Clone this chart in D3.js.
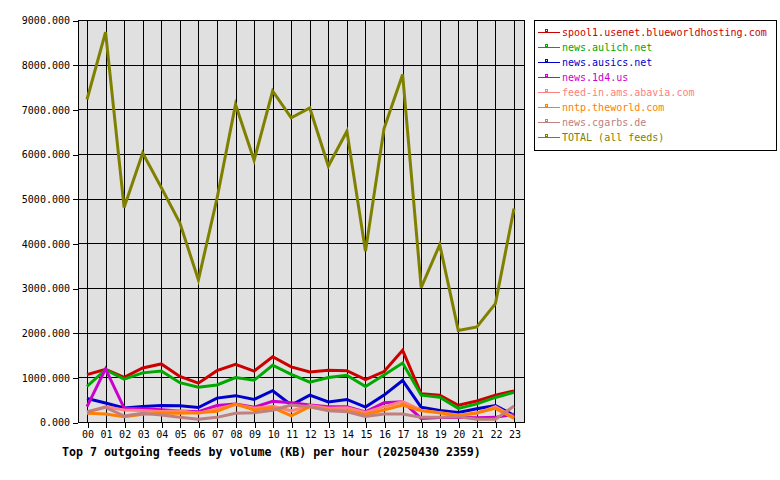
<!DOCTYPE html>
<html>
<head>
<meta charset="utf-8">
<script src="https://cdn.jsdelivr.net/npm/d3@7"></script>
<style>
  body { margin: 0; background: #fff; }
  text { font-family: "DejaVu Sans Mono", monospace; }
</style>
</head>
<body>
<div id="chart"></div>
<script>
/* DATA */
const hours = ["00","01","02","03","04","05","06","07","08","09","10","11",
               "12","13","14","15","16","17","18","19","20","21","22","23"];
const yTicks = [0, 1000, 2000, 3000, 4000, 5000, 6000, 7000, 8000, 9000];

const spool1 = [1060,1180,1000,1210,1300,1020,870,1150,1290,1140,1460,1235,1120,1160,1150,950,1130,1605,630,600,375,470,600,695];
const aulich = [800,1170,960,1100,1140,880,780,830,995,935,1270,1065,890,995,1045,795,1050,1320,600,555,305,405,550,665];
const ausics = [525,425,315,345,370,365,325,535,590,505,700,380,600,450,505,335,602,930,328,260,215,295,370,150];
const d14 = [345,1190,310,295,275,245,230,370,400,330,465,430,380,343,343,225,430,455,80,100,104,97,104,175];
const feedin = [220,340,270,255,235,250,195,290,390,306,350,250,370,310,320,215,343,455,265,209,157,194,343,104];
const theworld = [194,180,120,172,194,194,209,240,402,269,320,140,343,269,254,170,269,380,254,209,134,209,306,82];
const cgarbs = [231,328,134,194,157,104,62,104,194,209,262,380,343,254,231,126,179,180,104,104,119,60,60,358];
const total = [7220,8730,4800,6020,5250,4460,3180,5000,7110,5860,7410,6810,7030,5730,6510,3820,6570,7780,3010,3970,2050,2130,2650,4780];

const seriesNames = ["spool1.usenet.blueworldhosting.com","news.aulich.net","news.ausics.net",
  "news.1d4.us","feed-in.ams.abavia.com","nntp.theworld.com","news.cgarbs.de","TOTAL (all feeds)"];
const seriesValues = [spool1, aulich, ausics, d14, feedin, theworld, cgarbs, total];
const seriesColors = ["#cc0000","#00a800","#0000cc","#cc00cc","#ff8080","#ff8000","#c08080","#808000"];

const title = "Top 7 outgoing feeds by volume (KB) per hour (20250430 2359)";

/* CONSTANTS */
const width = 780, height = 480;
const plot = { left: 78, right: 524, top: 20, bottom: 422 };

const svg = d3.select("#chart").append("svg")
  .attr("width", width)
  .attr("height", height);

svg.append("rect").attr("width", width).attr("height", height).attr("fill", "#fff");

// scales
const xScale = d3.scaleLinear().domain([0, 23]).range([87, 514]);
const yScale = d3.scaleLinear().domain([0, 9000]).range([plot.bottom, plot.top]);

// plot background
svg.append("rect")
  .attr("x", plot.left).attr("y", plot.top)
  .attr("width", plot.right - plot.left).attr("height", plot.bottom - plot.top)
  .attr("fill", "#e0e0e0");

// grid
const grid = svg.append("g").attr("shape-rendering", "crispEdges").attr("stroke", "#000");
grid.selectAll(".vgrid")
  .data(hours.map((h, i) => i))
  .join("line")
  .attr("class", "vgrid")
  .attr("x1", d => Math.round(xScale(d)) + 0.5).attr("x2", d => Math.round(xScale(d)) + 0.5)
  .attr("y1", plot.top).attr("y2", plot.bottom);
grid.selectAll(".hgrid")
  .data(yTicks)
  .join("line")
  .attr("class", "hgrid")
  .attr("x1", plot.left).attr("x2", plot.right)
  .attr("y1", d => Math.round(yScale(d)) + 0.5).attr("y2", d => Math.round(yScale(d)) + 0.5);

// frame
svg.append("rect")
  .attr("x", plot.left + 0.5).attr("y", plot.top + 0.5)
  .attr("width", plot.right - plot.left).attr("height", plot.bottom - plot.top)
  .attr("fill", "none").attr("stroke", "#000")
  .attr("shape-rendering", "crispEdges");

// axes
const xAxis = d3.axisBottom(xScale)
  .tickValues(hours.map((h, i) => i))
  .tickFormat(i => hours[i])
  .tickSize(6).tickPadding(3);
const yAxis = d3.axisLeft(yScale)
  .tickValues(yTicks)
  .tickFormat(d3.format(".3f"))
  .tickSize(5).tickPadding(3);

const xAxisGroup = svg.append("g")
  .attr("transform", `translate(0.5, ${plot.bottom})`)
  .call(xAxis);
const yAxisGroup = svg.append("g")
  .attr("transform", `translate(${plot.left}, 0.5)`)
  .call(yAxis);

[xAxisGroup, yAxisGroup].forEach(g => {
  g.select(".domain").remove();
  g.selectAll("line").attr("stroke", "#000").attr("shape-rendering", "crispEdges");
  g.selectAll("text")
    .attr("fill", "#000")
    .attr("font-size", 10)
    .attr("font-family", "'DejaVu Sans Mono', monospace");
});

// lines
const lineGen = d3.line()
  .x((d, i) => xScale(i))
  .y(d => yScale(d));

svg.selectAll(".series")
  .data(seriesValues)
  .join("path")
  .attr("class", "series")
  .attr("fill", "none")
  .attr("stroke", (d, i) => seriesColors[i])
  .attr("stroke-width", 3)
  .attr("stroke-linejoin", "miter")
  .attr("d", d => lineGen(d));

// title
svg.append("text")
  .attr("x", 62).attr("y", 456)
  .attr("font-size", 11.6)
  .attr("font-weight", "bold")
  .attr("fill", "#000")
  .text(title);

// legend
const legend = svg.append("g");
legend.append("rect")
  .attr("x", 534.5).attr("y", 20.5)
  .attr("width", 242).attr("height", 130)
  .attr("fill", "#fff").attr("stroke", "#000")
  .attr("shape-rendering", "crispEdges");

const items = legend.selectAll(".item")
  .data(seriesNames)
  .join("g")
  .attr("class", "item")
  .attr("transform", (d, i) => `translate(0, ${32 + i * 15})`);

items.append("line")
  .attr("x1", 538).attr("x2", 560)
  .attr("y1", 0.5).attr("y2", 0.5)
  .attr("stroke", (d, i) => seriesColors[i])
  .attr("shape-rendering", "crispEdges");
items.append("rect")
  .attr("x", 545.5).attr("y", -2.5)
  .attr("width", 2).attr("height", 2)
  .attr("fill", "#fff")
  .attr("stroke", (d, i) => seriesColors[i])
  .attr("shape-rendering", "crispEdges");
items.append("text")
  .attr("x", 562).attr("y", 4)
  .attr("font-size", 10)
  .attr("fill", (d, i) => seriesColors[i])
  .text(d => d);
</script>
</body>
</html>
